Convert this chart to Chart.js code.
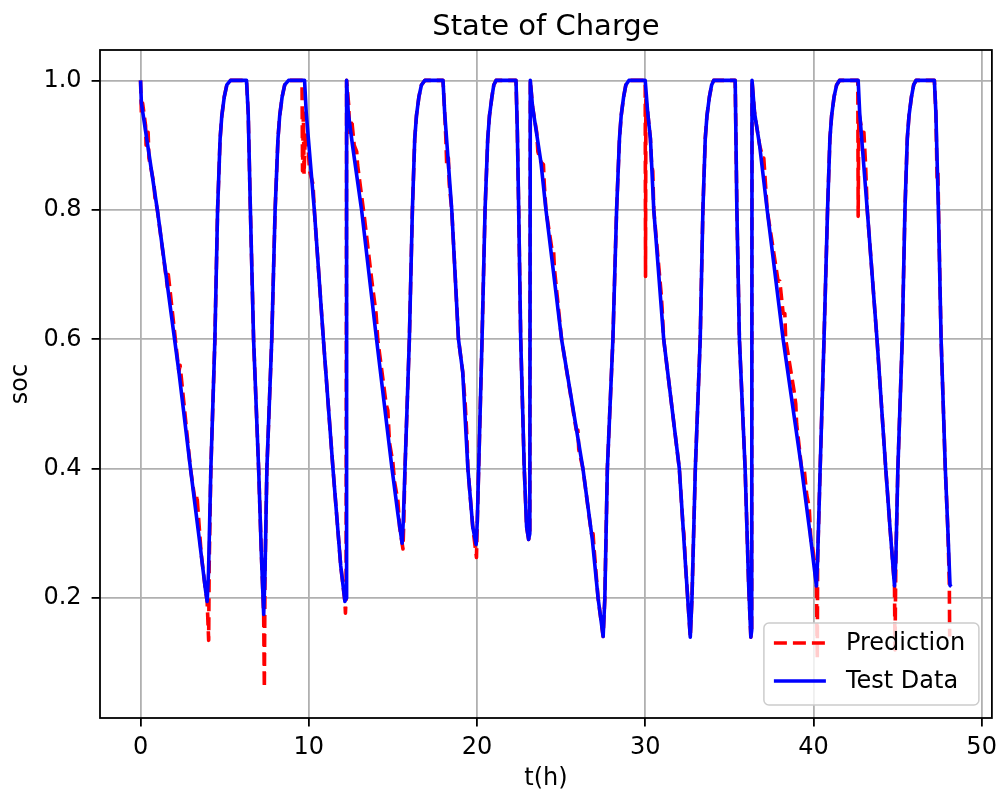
<!DOCTYPE html>
<html>
<head>
<meta charset="utf-8">
<title>State of Charge</title>
<script src="https://cdn.jsdelivr.net/npm/chart.js@4.4.0/dist/chart.umd.min.js"></script>
<style>
  html, body { margin: 0; padding: 0; background: #fff; }
  #wrap { width: 1004px; height: 800px; }
</style>
</head>
<body>
<div id="wrap"><canvas id="socChart" width="1004" height="800"></canvas></div>
<script>
// measured soc, one line per charge / discharge leg
const testTime = [
  0, 0.05, 1.0, 2.28, 2.97, 3.5, 3.85, 3.96,
  4.04, 4.18, 4.42, 4.58, 4.73, 4.83, 4.98, 5.13, 5.35, 6.3,
  6.4, 6.53, 6.72, 7.02, 7.18, 7.32,
  7.4, 7.51, 7.8, 8.0, 8.17, 8.27, 8.42, 8.57, 8.8, 9.75,
  9.85, 10.33, 10.87, 11.44, 11.9, 12.15, 12.22, 12.25,
  12.35, 12.6, 13.14, 14.03, 14.95, 15.3, 15.55,
  15.62, 15.72, 15.98, 16.16, 16.3, 16.4, 16.55, 16.7, 16.9, 17.98,
  18.08, 18.5, 18.9, 19.15, 19.46, 19.75, 19.95,
  20.02, 20.1, 20.3, 20.48, 20.64, 20.74, 20.89, 21.0, 21.13, 22.32,
  22.4, 22.48, 22.6, 22.81, 22.95, 23.07, 23.14, 23.17,
  23.3, 23.8, 24.1, 25.03, 26.3, 26.86, 27.2, 27.5,
  27.6, 27.75, 28.08, 28.3, 28.47, 28.57, 28.72, 28.85, 29.03, 30.0,
  30.15, 30.31, 30.51, 31.1, 32.03, 32.4, 32.68,
  32.78, 32.98, 33.27, 33.43, 33.57, 33.67, 33.82, 33.95, 34.07, 35.35,
  35.45, 35.6, 35.94, 36.15, 36.28, 36.33, 36.35,
  36.5, 36.8, 37.25, 38.2, 39.3, 39.8, 40.18,
  40.25, 40.4, 40.63, 40.84, 40.98, 41.08, 41.23, 41.38, 41.55, 42.66,
  42.75, 43.2, 43.78, 44.3, 44.55, 44.82,
  44.9, 45.02, 45.28, 45.44, 45.58, 45.68, 45.83, 45.96, 46.1, 47.19,
  47.28, 47.43, 47.59, 47.84, 48.0, 48.12, 48.2
];
const testSoc = [
  1.0, 0.965, 0.8, 0.55, 0.4, 0.29, 0.215, 0.195,
  0.24, 0.4, 0.6, 0.8, 0.91, 0.945, 0.975, 0.993, 1.0, 1.0,
  0.95, 0.8, 0.6, 0.4, 0.27, 0.175,
  0.24, 0.4, 0.6, 0.8, 0.91, 0.945, 0.975, 0.993, 1.0, 1.0,
  0.95, 0.8, 0.6, 0.4, 0.25, 0.195, 0.2, 1.0,
  0.95, 0.9, 0.8, 0.6, 0.4, 0.33, 0.285,
  0.32, 0.4, 0.6, 0.8, 0.91, 0.945, 0.975, 0.993, 1.0, 1.0,
  0.95, 0.8, 0.6, 0.55, 0.4, 0.31, 0.283,
  0.32, 0.4, 0.6, 0.8, 0.91, 0.945, 0.975, 0.993, 1.0, 1.0,
  0.92, 0.8, 0.6, 0.4, 0.31, 0.291, 0.3, 1.0,
  0.96, 0.874, 0.8, 0.6, 0.4, 0.29, 0.2, 0.141,
  0.2, 0.4, 0.6, 0.8, 0.91, 0.945, 0.975, 0.993, 1.0, 1.0,
  0.95, 0.91, 0.8, 0.6, 0.4, 0.25, 0.14,
  0.2, 0.4, 0.6, 0.8, 0.91, 0.945, 0.975, 0.993, 1.0, 1.0,
  0.8, 0.6, 0.4, 0.22, 0.14, 0.15, 1.0,
  0.95, 0.9, 0.8, 0.6, 0.4, 0.3, 0.219,
  0.26, 0.4, 0.6, 0.8, 0.91, 0.945, 0.975, 0.993, 1.0, 1.0,
  0.95, 0.8, 0.6, 0.4, 0.31, 0.219,
  0.26, 0.4, 0.6, 0.8, 0.91, 0.945, 0.975, 0.993, 1.0, 1.0,
  0.95, 0.8, 0.6, 0.4, 0.3, 0.22, 0.218
];

// model prediction, same legs with its noise
const predTime = [
  0, 0.05, 0.12, 0.3, 0.33, 0.45, 0.5, 0.8, 0.85, 1.0, 1.6, 1.65, 2.28, 2.35, 2.97, 3.3, 3.35, 3.6, 3.85, 3.96, 4.05, 4.08,
  4.18, 4.42, 4.58, 4.73, 4.83, 4.98, 5.13, 5.35, 6.3,
  6.4, 6.53, 6.72, 7.02, 7.18, 7.32, 7.36, 7.4, 7.51, 7.8, 8.0, 8.17, 8.27, 8.42, 8.57, 8.8, 9.6,
  9.63, 9.68, 9.72, 9.8, 9.95, 10.05, 10.25, 10.33, 10.87, 11.44, 11.9, 12.15, 12.18, 12.22, 12.25,
  12.38, 12.42, 12.55, 12.7, 12.85, 12.9, 13.2, 13.3, 13.75, 13.85, 14.0, 14.1, 14.6, 14.7, 14.8, 15.0, 15.1, 15.3, 15.4, 15.6, 15.65,
  15.72, 15.98, 16.16, 16.3, 16.4, 16.55, 16.7, 16.9, 17.98,
  18.08, 18.15, 18.2, 18.3, 18.35, 18.5, 18.9, 19.15, 19.3, 19.4, 19.46, 19.75, 19.97, 20.02,
  20.1, 20.3, 20.48, 20.64, 20.74, 20.89, 21.0, 21.13, 22.32,
  22.4, 22.48, 22.6, 22.81, 22.95, 23.07, 23.14, 23.17,
  23.3, 23.55, 23.62, 23.8, 23.95, 24.0, 24.1, 24.45, 24.55, 24.6, 25.03, 25.9, 26.0, 26.05, 26.3, 26.8, 26.9, 26.95, 27.2, 27.5,
  27.6, 27.75, 28.08, 28.3, 28.47, 28.57, 28.72, 28.85, 29.03, 30.0,
  30.02, 30.04, 30.15, 30.31, 30.38, 30.45, 30.51, 30.95, 31.0, 31.1, 32.03, 32.25, 32.3, 32.4, 32.68,
  32.78, 32.98, 33.27, 33.43, 33.57, 33.67, 33.82, 33.95, 34.07, 35.35,
  35.45, 35.6, 35.94, 36.15, 36.28, 36.33, 36.35,
  36.5, 36.8, 37.0, 37.05, 37.25, 37.9, 38.0, 38.2, 38.3, 38.35, 38.85, 38.95, 39.0, 39.3, 39.45, 39.6, 39.75, 39.85, 40.0, 40.18, 40.23, 40.25,
  40.4, 40.63, 40.84, 40.98, 41.08, 41.23, 41.38, 41.55, 42.64,
  42.66, 42.7, 42.9, 43.0, 43.1, 43.2, 43.78, 44.3, 44.55, 44.82, 44.85, 44.9,
  45.02, 45.28, 45.44, 45.58, 45.68, 45.83, 45.96, 46.1, 47.19,
  47.28, 47.35, 47.4, 47.45, 47.59, 47.84, 48.0, 48.08, 48.1
];
const predSoc = [
  1.0, 0.95, 0.965, 0.93, 0.9, 0.92, 0.88, 0.84, 0.82, 0.8, 0.68, 0.7, 0.55, 0.56, 0.4, 0.34, 0.36, 0.27, 0.215, 0.195, 0.135, 0.25,
  0.4, 0.6, 0.8, 0.91, 0.945, 0.975, 0.993, 1.0, 1.0,
  0.95, 0.8, 0.6, 0.4, 0.27, 0.175, 0.062, 0.24, 0.4, 0.6, 0.8, 0.91, 0.945, 0.975, 0.993, 1.0, 1.0,
  0.86, 0.95, 0.855, 0.92, 0.9, 0.86, 0.84, 0.8, 0.6, 0.4, 0.25, 0.195, 0.177, 0.2, 1.0,
  0.96, 0.92, 0.94, 0.9, 0.89, 0.87, 0.81, 0.79, 0.69, 0.67, 0.64, 0.6, 0.5, 0.49, 0.44, 0.41, 0.38, 0.35, 0.31, 0.276, 0.32,
  0.4, 0.6, 0.8, 0.91, 0.945, 0.975, 0.993, 1.0, 1.0,
  0.95, 0.91, 0.87, 0.88, 0.84, 0.8, 0.6, 0.55, 0.5, 0.45, 0.4, 0.31, 0.263, 0.32,
  0.4, 0.6, 0.8, 0.91, 0.945, 0.975, 0.993, 1.0, 1.0,
  0.92, 0.8, 0.6, 0.4, 0.31, 0.291, 0.3, 1.0,
  0.96, 0.92, 0.89, 0.874, 0.87, 0.84, 0.8, 0.74, 0.74, 0.71, 0.6, 0.46, 0.46, 0.43, 0.4, 0.3, 0.3, 0.28, 0.2, 0.141,
  0.2, 0.4, 0.6, 0.8, 0.91, 0.945, 0.975, 0.993, 1.0, 1.0,
  0.697, 0.97, 0.95, 0.91, 0.87, 0.86, 0.8, 0.67, 0.65, 0.6, 0.4, 0.31, 0.3, 0.25, 0.14,
  0.2, 0.4, 0.6, 0.8, 0.91, 0.945, 0.975, 0.993, 1.0, 1.0,
  0.8, 0.6, 0.4, 0.22, 0.14, 0.15, 1.0,
  0.95, 0.9, 0.88, 0.88, 0.8, 0.69, 0.69, 0.64, 0.64, 0.6, 0.52, 0.5, 0.47, 0.4, 0.4, 0.36, 0.34, 0.29, 0.27, 0.219, 0.106, 0.26,
  0.4, 0.6, 0.8, 0.91, 0.945, 0.975, 0.993, 1.0, 1.0,
  0.79, 0.95, 0.92, 0.92, 0.87, 0.8, 0.6, 0.4, 0.31, 0.219, 0.12, 0.26,
  0.4, 0.6, 0.8, 0.91, 0.945, 0.975, 0.993, 1.0, 1.0,
  0.95, 0.85, 0.86, 0.78, 0.6, 0.4, 0.3, 0.22, 0.141
];

const xTicks = [0, 10, 20, 30, 40, 50];
const yTicks = [0.2, 0.4, 0.6, 0.8, 1.0];

const toPoints = (ts, vs) => ts.map((t, i) => ({ x: t, y: vs[i] }));

Chart.defaults.font.family = "'DejaVu Sans', sans-serif";
Chart.defaults.color = '#000';

// matplotlib-like frame, title and legend
const framePlugin = {
  id: 'frame',
  afterDatasetsDraw(chart) {
    const { ctx, chartArea: a } = chart;
    ctx.save();
    ctx.strokeStyle = '#000';
    ctx.lineWidth = 1.8;
    ctx.strokeRect(a.left, a.top, a.right - a.left, a.bottom - a.top);
    ctx.restore();
  },
  afterDraw(chart) {
    const { ctx, chartArea: a } = chart;
    ctx.save();
    ctx.fillStyle = '#000';
    ctx.font = "29px 'DejaVu Sans'";
    ctx.textAlign = 'center';
    ctx.textBaseline = 'alphabetic';
    ctx.fillText('State of Charge', (a.left + a.right) / 2, 35);

    // legend, lower right inside the axes
    const w = 215, h = 82;
    const x0 = a.right - 13 - w, y0 = a.bottom - 13 - h, r = 5;
    ctx.beginPath();
    ctx.moveTo(x0 + r, y0);
    ctx.lineTo(x0 + w - r, y0);
    ctx.arcTo(x0 + w, y0, x0 + w, y0 + r, r);
    ctx.lineTo(x0 + w, y0 + h - r);
    ctx.arcTo(x0 + w, y0 + h, x0 + w - r, y0 + h, r);
    ctx.lineTo(x0 + r, y0 + h);
    ctx.arcTo(x0, y0 + h, x0, y0 + h - r, r);
    ctx.lineTo(x0, y0 + r);
    ctx.arcTo(x0, y0, x0 + r, y0, r);
    ctx.closePath();
    ctx.fillStyle = 'rgba(255,255,255,0.8)';
    ctx.fill();
    ctx.strokeStyle = '#cccccc';
    ctx.lineWidth = 1.5;
    ctx.stroke();

    ctx.font = "24px 'DejaVu Sans'";
    ctx.textAlign = 'left';
    ctx.textBaseline = 'middle';
    chart.data.datasets.forEach((ds, i) => {
      const yy = y0 + 20 + i * 38;
      ctx.beginPath();
      ctx.setLineDash(ds.borderDash || []);
      ctx.strokeStyle = ds.borderColor;
      ctx.lineWidth = ds.borderWidth;
      ctx.moveTo(x0 + 10, yy);
      ctx.lineTo(x0 + 62, yy);
      ctx.stroke();
      ctx.setLineDash([]);
      ctx.fillStyle = '#000';
      ctx.fillText(ds.label, x0 + 82, yy + 1);
    });
    ctx.restore();
  }
};

new Chart(document.getElementById('socChart'), {
  type: 'line',
  data: {
    datasets: [
      {
        label: 'Prediction',
        data: toPoints(predTime, predSoc),
        borderColor: '#ff0000',
        borderWidth: 3.6,
        borderDash: [13, 6],
        borderJoinStyle: 'round',
        pointRadius: 0,
        tension: 0,
        order: 1
      },
      {
        label: 'Test Data',
        data: toPoints(testTime, testSoc),
        borderColor: '#0000ff',
        borderWidth: 3.6,
        borderJoinStyle: 'round',
        pointRadius: 0,
        tension: 0,
        order: 0
      }
    ]
  },
  options: {
    responsive: false,
    animation: false,
    layout: { padding: { top: 50, right: 8, bottom: 0, left: 0 } },
    plugins: {
      legend: { display: false },
      title: { display: false },
      tooltip: { enabled: false }
    },
    scales: {
      x: {
        type: 'linear',
        min: -2.41,
        max: 50.61,
        afterBuildTicks: s => { s.ticks = xTicks.map(v => ({ value: v })); },
        afterFit: s => { s.height = 82; },
        ticks: { font: { size: 24 }, padding: 7, color: '#000', callback: v => String(v) },
        grid: { color: '#b0b0b0', lineWidth: 1.8, tickLength: 8.4, tickColor: '#000', tickWidth: 1.8 },
        border: { display: false },
        title: { display: true, text: 't(h)', font: { size: 24 }, color: '#000', padding: { top: 0, bottom: 7 } }
      },
      y: {
        min: 0.015,
        max: 1.047,
        afterBuildTicks: s => { s.ticks = yTicks.map(v => ({ value: v })); },
        afterFit: s => { s.width = 100; },
        ticks: { font: { size: 24 }, padding: 10, color: '#000', callback: v => v.toFixed(1) },
        grid: { color: '#b0b0b0', lineWidth: 1.8, tickLength: 8.4, tickColor: '#000', tickWidth: 1.8 },
        border: { display: false },
        title: { display: true, text: 'soc', font: { size: 24 }, color: '#000', padding: { top: 6, bottom: 0 } }
      }
    }
  },
  plugins: [framePlugin]
});
</script>
</body>
</html>
